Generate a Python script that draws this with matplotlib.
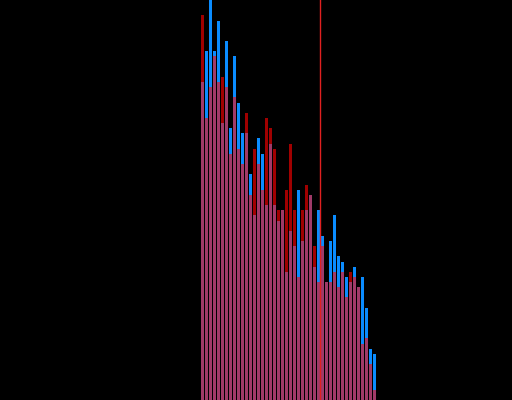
import numpy as np
import matplotlib
matplotlib.use("Agg")
import matplotlib.pyplot as plt

# counts per bin for the two overlapping histograms
red_counts = [75, 55, 61, 67, 62, 63, 61, 48, 59, 49, 46, 56, 40, 49, 46, 41, 55, 53, 49, 37, 37, 41,
              50, 37, 24, 37, 42, 40, 30, 23, 30, 23, 23, 25, 22, 25, 20, 25, 24, 22, 11, 12, 7, 2]
blue_counts = [62, 68, 78, 68, 74, 54, 70, 53, 67, 58, 52, 52, 44, 36, 51, 48, 38, 50, 38, 35, 37, 25,
               33, 30, 41, 31, 37, 40, 26, 37, 32, 23, 31, 36, 28, 27, 24, 23, 26, 22, 24, 18, 10, 9]
marker_x = 29.8  # vertical reference line (bin units)

red = np.array(red_counts)
blue = np.array(blue_counts)
bins = np.arange(len(red))
overlap = np.minimum(red, blue)

fig = plt.figure(figsize=(5.12, 4.0), dpi=100, facecolor="black")
ax = fig.add_axes([0, 0, 1, 1], facecolor="black")

# red and blue bars, overlap drawn on top in the blended colour
ax.bar(bins, red, width=0.75, align="edge", color="#a00000", linewidth=0)
ax.bar(bins, blue, width=0.75, align="edge", color="#0a8cff", linewidth=0)
ax.bar(bins, overlap, width=0.75, align="edge", color="#a03a68", linewidth=0)

ax.axvline(marker_x, color="#e02020", linewidth=1.0)

ax.set_xlim(-50.25, 77.75)
ax.set_ylim(0, max(red.max(), blue.max()))
ax.axis("off")

fig.savefig("out.png", dpi=100, facecolor="black")
